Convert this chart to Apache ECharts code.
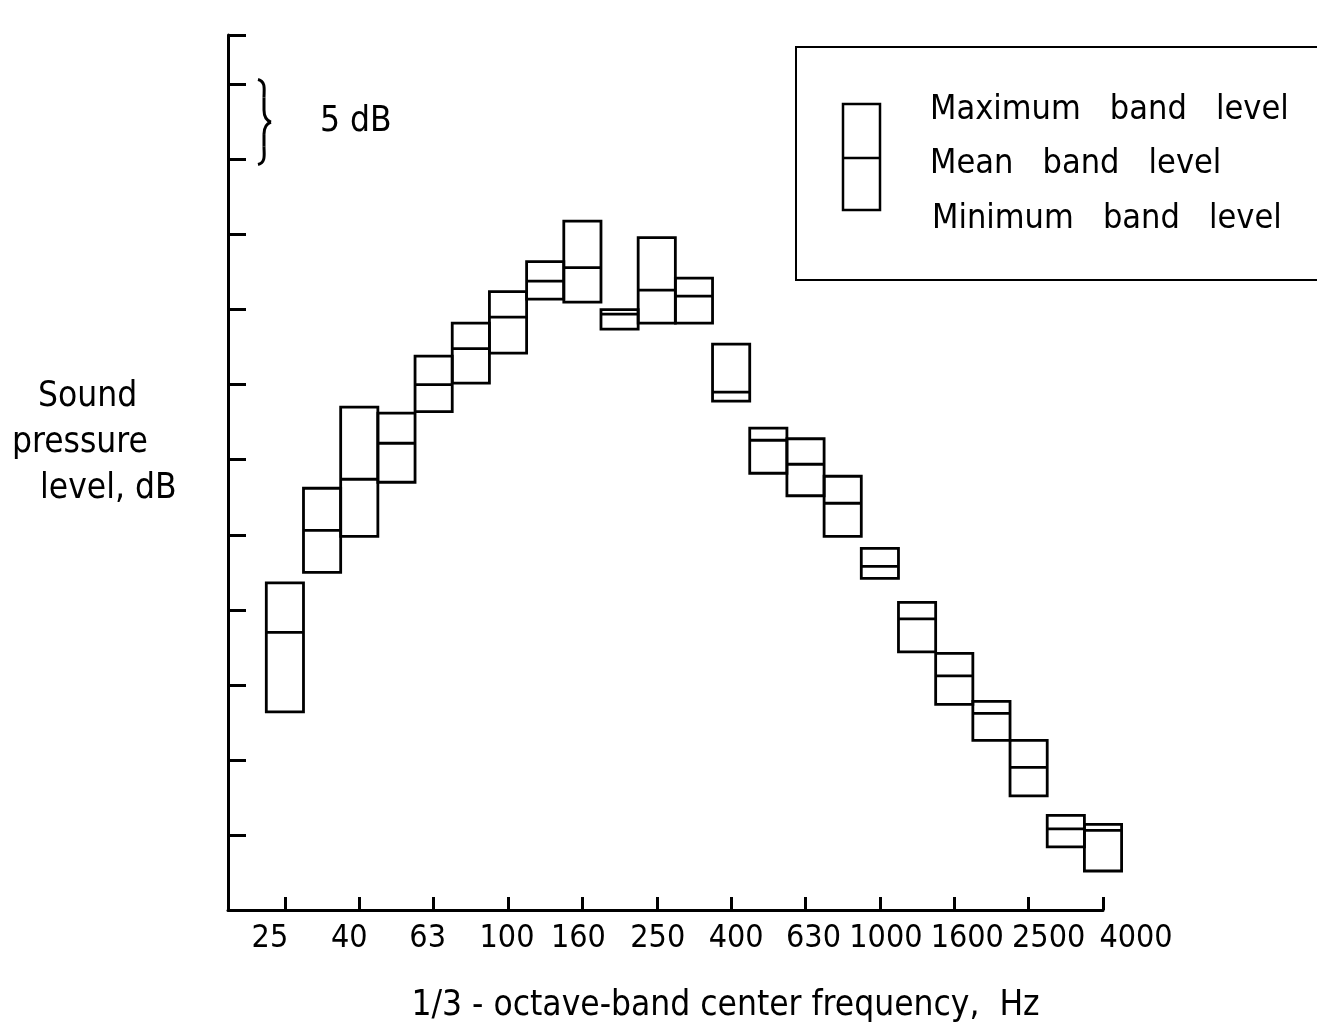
<!DOCTYPE html>
<html>
<head>
<meta charset="utf-8">
<script src="https://cdn.jsdelivr.net/npm/echarts@6/dist/echarts.min.js"></script>
<style>
  html, body { margin: 0; padding: 0; background: #fff; }
  #chart { width: 1317px; height: 1030px; }
</style>
</head>
<body>
<div id="chart"></div>
<script>
// 1/3-octave bands, Hz
var bands = ['25', '31.5', '40', '50', '63', '80', '100', '125', '160', '200', '250', '315',
  '400', '500', '630', '800', '1000', '1250', '1600', '2000', '2500', '3150', '4000'];
var tickLabels = ['25', '40', '63', '100', '160', '250', '400', '630', '1000', '1600', '2500', '4000'];

// levels in dB above the (unlabelled) axis origin
var maxLevel = [21.8, 28.1, 33.5, 33.1, 36.9, 39.1, 41.2, 43.2, 45.9, 40.0, 44.8, 42.1,
  37.7, 32.1, 31.4, 28.9, 24.1, 20.5, 17.1, 13.9, 11.3, 6.3, 5.7];
var meanLevel = [18.5, 25.3, 28.7, 31.1, 35.0, 37.4, 39.5, 41.9, 42.8, 39.7, 41.3, 40.9,
  34.5, 31.3, 29.7, 27.1, 22.9, 19.4, 15.6, 13.1, 9.5, 5.4, 5.3];
var minLevel = [13.2, 22.5, 24.9, 28.5, 33.2, 35.1, 37.1, 40.7, 40.5, 38.7, 39.1, 39.1,
  33.9, 29.1, 27.6, 24.9, 22.1, 17.2, 13.7, 11.3, 7.6, 4.2, 2.6];
var yTicks = [5, 10, 15, 20, 25, 30, 35, 40, 45, 50, 55, 58.3];

// hand-lettered labels drift a little off their ticks (px, style only)
var labelNudge = [-15, -10, -6, -1, -4, 1, 5, 8, 6, 13, 20, 33];

var FONT = "'DejaVu Sans Condensed', 'Liberation Sans Narrow', sans-serif";
var tickPos = tickLabels.map(function(l) { return bands.indexOf(l); });

var rich = {};
labelNudge.forEach(function(d, k) {
  rich['n' + k] = {
    color: '#000', fontFamily: FONT, fontSize: 32,
    padding: d >= 0 ? [0, 0, 0, 2 * d] : [0, -2 * d, 0, 0]
  };
});

var data = [];
for (var i = 0; i < bands.length; i++) {
  data.push([i, minLevel[i], meanLevel[i], maxLevel[i]]);
}

function renderBand(params, api) {
  var i = api.value(0);
  var tl = api.coord([i - 0.5, api.value(3)]);
  var br = api.coord([i + 0.5, api.value(1)]);
  var m = api.coord([i, api.value(2)]);
  var st = { fill: 'none', stroke: '#000', lineWidth: 2.8 };
  return {
    type: 'group',
    children: [
      { type: 'rect', shape: { x: tl[0], y: tl[1], width: br[0] - tl[0], height: br[1] - tl[1] }, style: st },
      { type: 'line', shape: { x1: tl[0], y1: m[1], x2: br[0], y2: m[1] }, style: st }
    ]
  };
}

var myChart = echarts.init(document.getElementById('chart'));

var option = {
  animation: false,
  grid: { left: 228, right: 214, top: 35, bottom: 120 },
  xAxis: {
    type: 'value',
    min: -1.53,
    max: 22,
    splitLine: { show: false },
    axisLine: { onZero: false, lineStyle: { color: '#000', width: 3 } },
    axisTick: { inside: true, length: 13, customValues: tickPos, lineStyle: { color: '#000', width: 3 } },
    axisLabel: {
      customValues: tickPos,
      showMaxLabel: true,
      showMinLabel: true,
      hideOverlap: false,
      color: '#000',
      fontFamily: FONT,
      fontSize: 32,
      margin: 13,
      formatter: function(v) {
        var k = tickPos.indexOf(Math.round(v));
        return '{n' + k + '|' + bands[Math.round(v)] + '}';
      },
      rich: rich
    },
    name: '1/3 - octave-band center frequency,  Hz',
    nameLocation: 'middle',
    nameGap: 78,
    nameTextStyle: { color: '#000', fontFamily: FONT, fontSize: 35, padding: [0, 0, 0, 120] }
  },
  yAxis: {
    type: 'value',
    min: 0,
    max: 58.3,
    splitLine: { show: false },
    axisLine: { onZero: false, lineStyle: { color: '#000', width: 3 } },
    axisTick: { inside: true, length: 18, customValues: yTicks, lineStyle: { color: '#000', width: 3 } },
    axisLabel: { show: false }
  },
  series: [
    {
      type: 'custom',
      clip: false,
      renderItem: renderBand,
      encode: { x: 0, y: [1, 2, 3] },
      data: data
    }
  ]
};

myChart.setOption(option);

// 5 dB brace between the two top ticks
var p55 = myChart.convertToPixel({ yAxisIndex: 0 }, 55);
var p50 = myChart.convertToPixel({ yAxisIndex: 0 }, 50);
var bx = 258, y0 = p55 - 5, y1 = p50 + 5, ym = (y0 + y1) / 2;
var bst = { fill: 'none', stroke: '#000', lineWidth: 3 };

function curve(x1, y1, c1x, c1y, c2x, c2y, x2, y2) {
  return { type: 'bezierCurve', shape: { x1: x1, y1: y1, cpx1: c1x, cpy1: c1y, cpx2: c2x, cpy2: c2y, x2: x2, y2: y2 }, style: bst };
}

var txt = { fill: '#000', font: '35px ' + FONT, textVerticalAlign: 'middle' };
var ltxt = { fill: '#000', font: '34px ' + FONT, textVerticalAlign: 'middle' };

myChart.setOption({
  graphic: [
    curve(bx, y0, bx + 8, y0 + 2, bx + 6, y0 + 10, bx + 6, y0 + 18),
    { type: 'line', shape: { x1: bx + 6, y1: y0 + 18, x2: bx + 6, y2: ym - 12 }, style: bst },
    curve(bx + 6, ym - 12, bx + 6, ym - 4, bx + 10, ym - 1, bx + 13, ym),
    curve(bx + 13, ym, bx + 10, ym + 1, bx + 6, ym + 4, bx + 6, ym + 12),
    { type: 'line', shape: { x1: bx + 6, y1: ym + 12, x2: bx + 6, y2: y1 - 18 }, style: bst },
    curve(bx + 6, y1 - 18, bx + 6, y1 - 10, bx + 8, y1 - 2, bx, y1),
    { type: 'text', x: 320, y: ym, style: Object.assign({ text: '5 dB' }, txt) },
    // y axis title
    { type: 'text', x: 38, y: 397, style: Object.assign({ text: 'Sound' }, txt) },
    { type: 'text', x: 12, y: 443, style: Object.assign({ text: 'pressure' }, txt) },
    { type: 'text', x: 40, y: 489, style: Object.assign({ text: 'level, dB' }, txt) },
    // legend box
    { type: 'rect', shape: { x: 796, y: 47, width: 560, height: 233 }, style: { fill: 'none', stroke: '#000', lineWidth: 2 } },
    { type: 'rect', shape: { x: 843, y: 104, width: 37, height: 106 }, style: { fill: 'none', stroke: '#000', lineWidth: 2.5 } },
    { type: 'line', shape: { x1: 843, y1: 158, x2: 880, y2: 158 }, style: { stroke: '#000', lineWidth: 2.5 } },
    { type: 'text', x: 930, y: 110, style: Object.assign({ text: 'Maximum   band   level' }, ltxt) },
    { type: 'text', x: 930, y: 164, style: Object.assign({ text: 'Mean   band   level' }, ltxt) },
    { type: 'text', x: 932, y: 219, style: Object.assign({ text: 'Minimum   band   level' }, ltxt) }
  ]
});
</script>
</body>
</html>
